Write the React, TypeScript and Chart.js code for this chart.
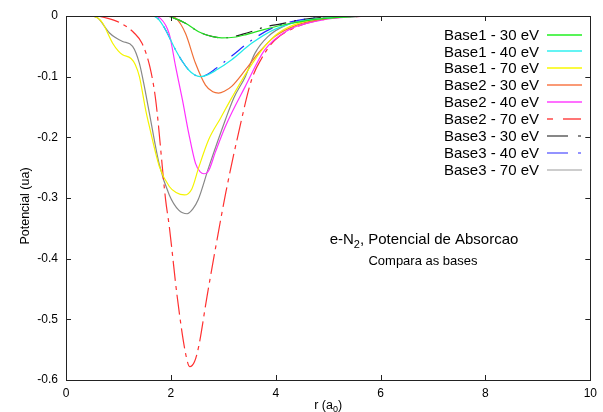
import React, { useEffect, useRef } from "react";
import { Chart, registerables } from "chart.js";

Chart.register(...registerables);

// Series data: r (a0) and potential (ua)
const b1_30_r = [0, 1.9, 2.05, 2.28, 2.53, 2.75, 2.97, 3.2, 3.42, 3.79, 4.29, 4.8, 5.5, 6.5, 10];
const b1_30_v = [0, 0, -0.003, -0.012, -0.026, -0.033, -0.036, -0.035, -0.031, -0.022, -0.012, -0.005, -0.001, 0, 0];

const b1_40_r = [0, 1.6, 1.75, 1.9, 2.09, 2.22, 2.34, 2.45, 2.56, 2.7, 2.85, 3.16, 3.54, 3.98, 4.5, 5.2, 6, 10];
const b1_40_v = [0, 0, -0.004, -0.023, -0.056, -0.075, -0.089, -0.097, -0.1, -0.097, -0.09, -0.072, -0.045, -0.022, -0.008, -0.002, 0, 0];

const b1_70_r = [0, 0.45, 0.6, 0.7, 0.89, 1.0, 1.08, 1.24, 1.32, 1.4, 1.52, 1.59, 1.78, 1.97, 2.1, 2.26, 2.4, 2.53, 2.72, 2.95, 3.16, 3.48, 3.79, 4.05, 4.5, 5.2, 6, 10];
const b1_70_v = [0, 0, -0.003, -0.012, -0.045, -0.058, -0.064, -0.07, -0.08, -0.1, -0.155, -0.182, -0.248, -0.281, -0.291, -0.295, -0.285, -0.25, -0.204, -0.168, -0.135, -0.088, -0.05, -0.028, -0.01, -0.002, 0, 0];

const b2_30_r = [0, 1.95, 2.1, 2.28, 2.47, 2.66, 2.8, 2.91, 3.02, 3.16, 3.42, 3.67, 3.98, 4.4, 5, 5.8, 10];
const b2_30_v = [0, 0, -0.004, -0.029, -0.078, -0.114, -0.125, -0.127, -0.124, -0.116, -0.089, -0.061, -0.034, -0.015, -0.004, 0, 0];

const b2_40_r = [0, 1.65, 1.8, 1.97, 2.09, 2.22, 2.34, 2.47, 2.56, 2.63, 2.72, 2.85, 3.04, 3.42, 3.79, 4.2, 4.8, 5.5, 6.2, 10];
const b2_40_v = [0, 0, -0.004, -0.03, -0.083, -0.138, -0.193, -0.243, -0.257, -0.26, -0.255, -0.224, -0.182, -0.116, -0.056, -0.025, -0.008, -0.001, 0, 0];

const b2_70_r = [0, 0.55, 0.8, 1.05, 1.3, 1.45, 1.6, 1.71, 1.9, 1.97, 2.12, 2.28, 2.36, 2.45, 2.53, 2.69, 2.88, 3.05, 3.29, 3.54, 3.73, 3.98, 4.4, 4.9, 5.5, 6.2, 10];
const b2_70_v = [0, 0, -0.004, -0.012, -0.028, -0.045, -0.084, -0.138, -0.303, -0.347, -0.462, -0.556, -0.578, -0.57, -0.545, -0.462, -0.369, -0.29, -0.193, -0.105, -0.07, -0.04, -0.018, -0.006, -0.001, 0, 0];

const b3_30_r = [0, 1.9, 2.05, 2.3, 2.55, 2.8, 3.0, 3.2, 3.45, 3.8, 4.1, 4.5, 5.0, 5.6, 10];
const b3_30_v = [0, 0, -0.003, -0.013, -0.027, -0.034, -0.036, -0.034, -0.028, -0.018, -0.013, -0.006, -0.002, 0, 0];

const b3_40_r = [0, 1.6, 1.75, 1.9, 2.09, 2.22, 2.34, 2.45, 2.55, 2.7, 2.85, 3.16, 3.54, 3.98, 4.5, 5.2, 6, 10];
const b3_40_v = [0, 0, -0.004, -0.023, -0.056, -0.075, -0.089, -0.097, -0.1, -0.096, -0.087, -0.066, -0.04, -0.018, -0.006, -0.001, 0, 0];

const b3_70_r = [0, 0.45, 0.6, 0.83, 0.95, 1.08, 1.27, 1.4, 1.48, 1.59, 1.78, 1.97, 2.15, 2.31, 2.42, 2.52, 2.72, 3.04, 3.2, 3.42, 3.6, 3.85, 4.2, 4.7, 5.4, 6.2, 10];
const b3_70_v = [0, 0, -0.003, -0.028, -0.036, -0.042, -0.05, -0.078, -0.11, -0.16, -0.245, -0.295, -0.32, -0.326, -0.318, -0.303, -0.25, -0.171, -0.135, -0.1, -0.062, -0.034, -0.015, -0.005, -0.001, 0, 0];

const seriesLabels = [
  "Base1 - 30 eV",
  "Base1 - 40 eV",
  "Base1 - 70 eV",
  "Base2 - 30 eV",
  "Base2 - 40 eV",
  "Base2 - 70 eV",
  "Base3 - 30 eV",
  "Base3 - 40 eV",
  "Base3 - 70 eV",
];
const seriesR = [b1_30_r, b1_40_r, b1_70_r, b2_30_r, b2_40_r, b2_70_r, b3_30_r, b3_40_r, b3_70_r];
const seriesV = [b1_30_v, b1_40_v, b1_70_v, b2_30_v, b2_40_v, b2_70_v, b3_30_v, b3_40_v, b3_70_v];
const lineColors = ["#22e022", "#22e8e8", "#f4f400", "#f07038", "#ff30ff", "#ff3030", "#202020", "#2828ff", "#888888"];
const legendColors = ["#20f020", "#30f0f0", "#f8f800", "#f87848", "#ff40ff", "#ff4848", "#606060", "#7070ff", "#bcbcbc"];
const dashes: number[][] = [[], [], [], [], [], [20, 5, 4, 5], [17, 8, 2, 8], [16, 8, 2, 8], []];
const legendDashes: number[][] = [[], [], [], [], [], [6, 10, 18], [21, 10, 3], [21, 10, 3], []];

const xTicks = [0, 2, 4, 6, 8, 10];
const yTicks = [0, -0.1, -0.2, -0.3, -0.4, -0.5, -0.6];

const FONT = "'Liberation Sans', Arial, Helvetica, sans-serif";

const decorPlugin = {
  id: "decor",
  afterDraw(chart: any) {
    const ctx = chart.ctx;
    const { left, right, top, bottom } = chart.chartArea;
    const xs = chart.scales.x;
    const ys = chart.scales.y;
    ctx.save();
    // border
    ctx.strokeStyle = "#222";
    ctx.lineWidth = 1;
    ctx.setLineDash([]);
    ctx.strokeRect(Math.round(left) + 0.5, Math.round(top) + 0.5, Math.round(right - left), Math.round(bottom - top));
    // ticks (inward, mirrored)
    const tl = 5;
    ctx.beginPath();
    xTicks.forEach((t) => {
      const px = Math.round(xs.getPixelForValue(t)) + 0.5;
      ctx.moveTo(px, bottom);
      ctx.lineTo(px, bottom - tl);
      ctx.moveTo(px, top);
      ctx.lineTo(px, top + tl);
    });
    yTicks.forEach((t) => {
      const py = Math.round(ys.getPixelForValue(t)) + 0.5;
      ctx.moveTo(left, py);
      ctx.lineTo(left + tl, py);
      ctx.moveTo(right, py);
      ctx.lineTo(right - tl, py);
    });
    ctx.stroke();

    // axis titles
    ctx.fillStyle = "#000";
    ctx.font = `12.5px ${FONT}`;
    ctx.textBaseline = "alphabetic";
    const cx = (left + right) / 2;
    const p1 = "r (a";
    const sub = "0";
    const p2 = ")";
    const w1 = ctx.measureText(p1).width;
    ctx.font = `9px ${FONT}`;
    const ws = ctx.measureText(sub).width;
    ctx.font = `12.5px ${FONT}`;
    const w2 = ctx.measureText(p2).width;
    let sx = cx - (w1 + ws + w2) / 2;
    const by = 409;
    ctx.textAlign = "left";
    ctx.fillText(p1, sx, by);
    sx += w1;
    ctx.font = `9px ${FONT}`;
    ctx.fillText(sub, sx, by + 3);
    sx += ws;
    ctx.font = `12.5px ${FONT}`;
    ctx.fillText(p2, sx, by);

    // y title
    ctx.save();
    ctx.translate(29, (top + bottom) / 2 + 8);
    ctx.rotate(-Math.PI / 2);
    ctx.textAlign = "center";
    ctx.fillText("Potencial (ua)", 0, 0);
    ctx.restore();

    // annotation
    ctx.font = `15px ${FONT}`;
    const a1 = "e-N";
    const a2 = "2";
    const a3 = ", Potencial de Absorcao";
    const aw1 = ctx.measureText(a1).width;
    const aw3 = ctx.measureText(a3).width;
    ctx.font = `11px ${FONT}`;
    const aw2 = ctx.measureText(a2).width;
    let ax = 424 - (aw1 + aw2 + aw3) / 2;
    const ay = 244;
    ctx.textAlign = "left";
    ctx.font = `15px ${FONT}`;
    ctx.fillText(a1, ax, ay);
    ax += aw1;
    ctx.font = `11px ${FONT}`;
    ctx.fillText(a2, ax, ay + 4);
    ax += aw2;
    ctx.font = `15px ${FONT}`;
    ctx.fillText(a3, ax, ay);
    ctx.font = `13px ${FONT}`;
    ctx.textAlign = "center";
    ctx.fillText("Compara as bases", 423, 265);

    // legend
    ctx.font = `15px ${FONT}`;
    ctx.textAlign = "right";
    ctx.textBaseline = "middle";
    seriesLabels.forEach((lab, i) => {
      const y = 34.5 + i * 16.9;
      ctx.fillStyle = "#000";
      ctx.fillText(lab, 539, y + 1);
      ctx.strokeStyle = legendColors[i];
      ctx.lineWidth = 1.6;
      ctx.setLineDash(legendDashes[i]);
      ctx.lineDashOffset = 0;
      ctx.beginPath();
      ctx.moveTo(547, Math.round(y));
      ctx.lineTo(582, Math.round(y));
      ctx.stroke();
    });
    ctx.restore();
  },
};

export default function App() {
  const ref = useRef<HTMLCanvasElement | null>(null);
  useEffect(() => {
    document.body.style.margin = "0";
    const canvas = ref.current;
    if (!canvas) return;
    const datasets = seriesLabels.map((lab, i) => ({
      label: lab,
      data: seriesR[i].map((r, j) => ({ x: r, y: seriesV[i][j] })),
      borderColor: lineColors[i],
      backgroundColor: lineColors[i],
      borderWidth: 1.2,
      borderDash: dashes[i],
      pointRadius: 0,
      fill: false,
      cubicInterpolationMode: "monotone" as const,
    }));
    const chart = new Chart(canvas, {
      type: "line",
      data: { datasets },
      options: {
        responsive: false,
        animation: false,
        layout: { padding: { left: 0, top: 16, right: 7, bottom: 0 } },
        plugins: { legend: { display: false }, tooltip: { enabled: false }, title: { display: false } },
        scales: {
          x: {
            type: "linear",
            min: 0,
            max: 10,
            grid: { display: false, drawTicks: false },
            border: { display: false },
            ticks: {
              stepSize: 2,
              padding: 6,
              color: "#000",
              font: { family: FONT, size: 12 },
              maxRotation: 0,
              callback: (v: any) => String(v),
            },
            afterFit: (s: any) => {
              s.height = 32;
            },
          },
          y: {
            type: "linear",
            min: -0.6,
            max: 0,
            grid: { display: false, drawTicks: false },
            border: { display: false },
            ticks: {
              stepSize: 0.1,
              padding: 8,
              color: "#000",
              font: { family: FONT, size: 12 },
              callback: (v: any) => {
                const n = parseFloat(Number(v).toFixed(1));
                return n === 0 ? "0" : String(n);
              },
            },
            afterFit: (s: any) => {
              s.width = 66;
            },
          },
        },
      },
      plugins: [decorPlugin],
    });
    return () => chart.destroy();
  }, []);
  return (
    <div style={{ width: 603, height: 412 }}>
      <canvas ref={ref} width={603} height={412} style={{ display: "block" }} />
    </div>
  );
}
